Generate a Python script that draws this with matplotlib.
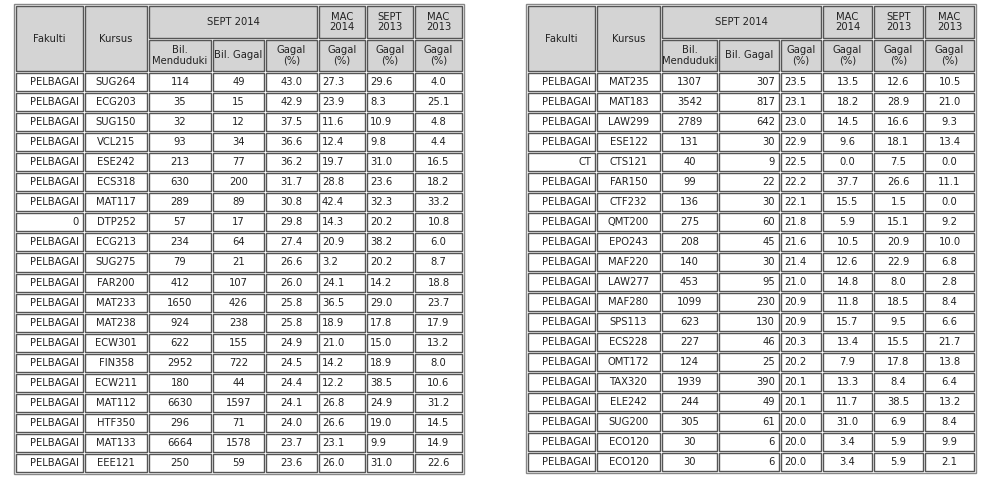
import matplotlib
matplotlib.use("Agg")
import matplotlib.pyplot as plt
from matplotlib.patches import Rectangle

fak_L = ["PELBAGAI"]*7 + ["0"] + ["PELBAGAI"]*11
kursus_L = ["SUG264","ECG203","SUG150","VCL215","ESE242","ECS318","MAT117","DTP252","ECG213","SUG275",
            "FAR200","MAT233","MAT238","ECW301","FIN358","ECW211","MAT112","HTF350","MAT133","EEE121"]
fak_L = ["PELBAGAI"]*7 + ["0"] + ["PELBAGAI"]*12
bil_L = [114,35,32,93,213,630,289,57,234,79,412,1650,924,622,2952,180,6630,296,6664,250]
gagal_L = [49,15,12,34,77,200,89,17,64,21,107,426,238,155,722,44,1597,71,1578,59]
pct_L = [43.0,42.9,37.5,36.6,36.2,31.7,30.8,29.8,27.4,26.6,26.0,25.8,25.8,24.9,24.5,24.4,24.1,24.0,23.7,23.6]
mac14_L = [27.3,23.9,11.6,12.4,19.7,28.8,42.4,14.3,20.9,3.2,24.1,36.5,18.9,21.0,14.2,12.2,26.8,26.6,23.1,26.0]
sep13_L = [29.6,8.3,10.9,9.8,31.0,23.6,32.3,20.2,38.2,20.2,14.2,29.0,17.8,15.0,18.9,38.5,24.9,19.0,9.9,31.0]
mac13_L = [4.0,25.1,4.8,4.4,16.5,18.2,33.2,10.8,6.0,8.7,18.8,23.7,17.9,13.2,8.0,10.6,31.2,14.5,14.9,22.6]

fak_R = ["PELBAGAI"]*4 + ["CT"] + ["PELBAGAI"]*15
kursus_R = ["MAT235","MAT183","LAW299","ESE122","CTS121","FAR150","CTF232","QMT200","EPO243","MAF220",
            "LAW277","MAF280","SPS113","ECS228","OMT172","TAX320","ELE242","SUG200","ECO120","ECO120"]
bil_R = [1307,3542,2789,131,40,99,136,275,208,140,453,1099,623,227,124,1939,244,305,30,30]
gagal_R = [307,817,642,30,9,22,30,60,45,30,95,230,130,46,25,390,49,61,6,6]
pct_R = [23.5,23.1,23.0,22.9,22.5,22.2,22.1,21.8,21.6,21.4,21.0,20.9,20.9,20.3,20.2,20.1,20.1,20.0,20.0,20.0]
mac14_R = [13.5,18.2,14.5,9.6,0.0,37.7,15.5,5.9,10.5,12.6,14.8,11.8,15.7,13.4,7.9,13.3,11.7,31.0,3.4,3.4]
sep13_R = [12.6,28.9,16.6,18.1,7.5,26.6,1.5,15.1,20.9,22.9,8.0,18.5,9.5,15.5,17.8,8.4,38.5,6.9,5.9,5.9]
mac13_R = [10.5,21.0,9.3,13.4,0.0,11.1,0.0,9.2,10.0,6.8,2.8,8.4,6.6,21.7,13.8,6.4,13.2,8.4,9.9,2.1]

W, H = 990, 482
fig = plt.figure(figsize=(W/100, H/100), dpi=100)
ax = fig.add_axes([0, 0, 1, 1])
ax.set_xlim(0, W); ax.set_ylim(H, 0); ax.axis("off")
FS = 7.2
HDR = "#d4d4d4"
EDGE = "#555555"

def cell(x0, x1, y0, y1, txt, fill="white", ha="center"):
    ax.add_patch(Rectangle((x0+1, y0+1), x1-x0-2, y1-y0-2, facecolor=fill, edgecolor=EDGE, lw=1.0))
    if ha == "center":
        tx = (x0+x1)/2
    elif ha == "right":
        tx = x1 - 5
    else:
        tx = x0 + 4
    ax.text(tx, (y0+y1)/2, txt, ha=ha, va="center", fontsize=FS, family="DejaVu Sans", color="#222222",
            linespacing=1.1)

def table(xs, top, bottom, fak, kur, bil, gag, pct, m14, s13, m13, aligns):
    ax.add_patch(Rectangle((xs[0]-1, top-1), xs[-1]-xs[0]+2, bottom-top+2, facecolor="none", edgecolor="#888888", lw=1))
    h1, h2 = top + 34, top + 67
    cell(xs[0], xs[1], top, h2, "Fakulti", HDR)
    cell(xs[1], xs[2], top, h2, "Kursus", HDR)
    cell(xs[2], xs[5], top, h1, "SEPT 2014", HDR)
    cell(xs[5], xs[6], top, h1, "MAC\n2014", HDR)
    cell(xs[6], xs[7], top, h1, "SEPT\n2013", HDR)
    cell(xs[7], xs[8], top, h1, "MAC\n2013", HDR)
    subs = ["Bil.\nMenduduki", "Bil. Gagal", "Gagal\n(%)", "Gagal\n(%)", "Gagal\n(%)", "Gagal\n(%)"]
    for i, s in enumerate(subs):
        cell(xs[2+i], xs[3+i], h1, h2, s, HDR)
    n = len(kur)
    rh = (bottom - h2) / n
    for r in range(n):
        y0 = h2 + r*rh; y1 = y0 + rh
        vals = [fak[r], kur[r], str(bil[r]), str(gag[r]), f"{pct[r]:.1f}", f"{m14[r]:.1f}", f"{s13[r]:.1f}", f"{m13[r]:.1f}"]
        for c, v in enumerate(vals):
            cell(xs[c], xs[c+1], y0, y1, v, ha=aligns[c])

table([15, 84, 148, 212, 265, 318, 366, 414, 463], 5, 473,
      fak_L, kursus_L, bil_L, gagal_L, pct_L, mac14_L, sep13_L, mac13_L,
      ["right", "center", "center", "center", "center", "left", "left", "center"])
table([527, 596, 661, 718, 780, 822, 873, 924, 975], 5, 472,
      fak_R, kursus_R, bil_R, gagal_R, pct_R, mac14_R, sep13_R, mac13_R,
      ["right", "center", "center", "right", "left", "center", "center", "center"])

fig.savefig("out.png", dpi=100, facecolor="white")
